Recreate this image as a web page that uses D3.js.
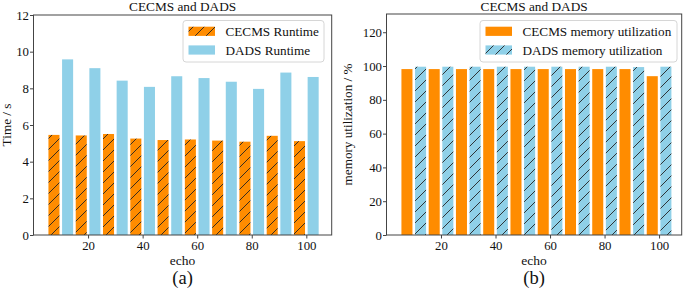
<!DOCTYPE html>
<html><head><meta charset="utf-8">
<script src="https://cdn.jsdelivr.net/npm/d3@7"></script>
<style>
html,body{margin:0;padding:0;background:#fff;}
svg{display:block;font-family:"Liberation Serif","Times New Roman",serif;}
</style></head>
<body><svg id="c" width="685" height="289"></svg>
<script>
const echo = [10,20,30,40,50,60,70,80,90,100];
const xTicks = [20,40,60,80,100];
const cecmsRuntime = [5.46,5.43,5.51,5.26,5.18,5.21,5.15,5.09,5.41,5.12];
const dadsRuntime  = [9.58,9.10,8.42,8.08,8.66,8.56,8.36,7.97,8.86,8.62];
const cecmsMemory  = [98.2,98.2,98.2,98.2,98.2,98.2,98.2,98.2,98.2,94.0];
const dadsMemory   = [99.6,99.6,99.6,99.6,99.6,99.6,99.6,99.6,99.4,99.6];
const timeTicks = [0,2,4,6,8,10,12];
const memTicks = [0,20,40,60,80,100,120];

const ORANGE = "#ff8c00", BLUE = "#8fd0e8";
const svg = d3.select("#c");
const defs = svg.append("defs");
function hatch(id, bg){
  const p = defs.append("pattern").attr("id",id).attr("patternUnits","userSpaceOnUse")
    .attr("width",11).attr("height",11);
  p.append("rect").attr("width",11).attr("height",11).attr("fill",bg);
  p.append("path").attr("d","M0,11 L11,0 M-2,2 L2,-2 M9,13 L13,9")
    .attr("stroke","#222").attr("stroke-width",0.9);
}
hatch("hO", ORANGE); hatch("hB", BLUE);

function panel(o){
  const g = svg.append("g");
  const x = d3.scaleLinear().domain(o.xdom).range([o.left,o.right]);
  const y = d3.scaleLinear().domain(o.ydom).range([o.bottom,o.top]);
  const inset = 1.3;
  [[o.s1,-5,o.f1],[o.s2,0,o.f2]].forEach(([vals,off,fill])=>{
    g.selectAll(null).data(vals).enter().append("rect")
      .attr("x",(d,i)=>x(echo[i]+off)+inset)
      .attr("width",(d,i)=>x(echo[i]+off+5)-x(echo[i]+off)-2*inset)
      .attr("y",d=>y(d)).attr("height",d=>y(0)-y(d))
      .attr("fill",fill);
  });
  const ax = g.append("g").attr("transform",`translate(0,${o.bottom})`)
    .call(d3.axisBottom(x).tickValues(xTicks).tickSize(3.5).tickPadding(2.5).tickFormat(d3.format("d")));
  const ay = g.append("g").attr("transform",`translate(${o.left},0)`)
    .call(d3.axisLeft(y).tickValues(o.yticks).tickSize(3.5).tickPadding(1).tickFormat(d3.format("d")));
  [ax,ay].forEach(a=>{
    a.select(".domain").remove();
    a.selectAll("line").attr("stroke","#444");
    a.selectAll("text").attr("fill","#111").style("font-size","12.8px").style("font-family","Liberation Serif");
  });
  g.append("rect").attr("x",o.left).attr("y",o.top).attr("width",o.right-o.left).attr("height",o.bottom-o.top)
    .attr("fill","none").attr("stroke","#444").attr("stroke-width",1);
  const cx = (o.left+o.right)/2;
  g.append("text").attr("x",cx).attr("y",11).attr("text-anchor","middle").style("font-size","13.3px").attr("fill","#111").text("CECMS and DADS");
  g.append("text").attr("x",cx).attr("y",265).attr("text-anchor","middle").style("font-size","13.5px").attr("fill","#111").text("echo");
  g.append("text").attr("x",cx).attr("y",283.5).attr("text-anchor","middle").style("font-size","18.5px").attr("fill","#111").text(o.tag);
  g.append("text").attr("transform",`translate(${o.ylx},${(o.top+o.bottom)/2}) rotate(-90)`)
    .attr("text-anchor","middle").style("font-size","13.2px").attr("fill","#111").text(o.ylabel);
  const L = o.legend;
  g.append("rect").attr("x",L.x).attr("y",20.5).attr("width",L.w).attr("height",41.5).attr("rx",3)
    .attr("fill","#fff").attr("fill-opacity",0.85).attr("stroke","#d6d6d6").attr("stroke-width",1);
  [[o.f1,o.n1,31.3,36],[o.f2,o.n2,50,54.5]].forEach(([fill,name,cy,by])=>{
    g.append("rect").attr("x",L.x+5.5).attr("y",cy-4.6).attr("width",26.5).attr("height",9.2).attr("fill",fill);
    g.append("text").attr("x",L.x+42.5).attr("y",by).style("font-size","13.2px").attr("fill","#111").text(name);
  });
}

panel({left:33.5,right:331.7,top:15,bottom:235,xdom:[0,109.3],ydom:[0,12],yticks:timeTicks,
  s1:cecmsRuntime,s2:dadsRuntime,f1:"url(#hO)",f2:BLUE,n1:"CECMS Runtime",n2:"DADS Runtime",
  tag:"(a)",ylabel:"Time / s",ylx:11,legend:{x:183,w:141}});
panel({left:386.5,right:681.7,top:14,bottom:235,xdom:[0,108.3],ydom:[0,130.8],yticks:memTicks,
  s1:cecmsMemory,s2:dadsMemory,f1:ORANGE,f2:"url(#hB)",n1:"CECMS memory utilization",n2:"DADS memory utilization",
  tag:"(b)",ylabel:"memory utilization / %",ylx:352,legend:{x:480,w:197}});
</script></body></html>
